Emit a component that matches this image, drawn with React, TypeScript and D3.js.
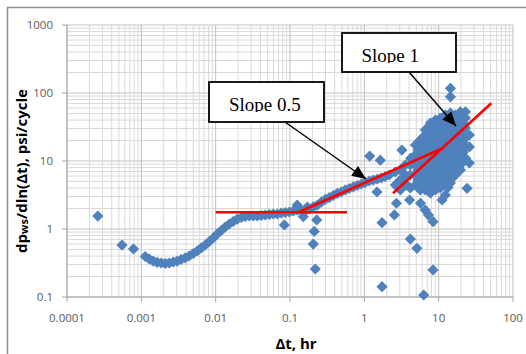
import React from "react";
import * as d3 from "d3";

const xTickLabels = ["0.0001", "0.001", "0.01", "0.1", "1", "10", "100"];
const yTickLabels = ["0.1", "1", "10", "100", "1000"];

// Main derivative trend (dense band)
const mainX = [0.001128, 0.001277, 0.001446, 0.001637, 0.001854, 0.0021, 0.00237, 0.00269, 0.00304, 0.00344, 0.0039, 0.00441, 0.005, 0.00565, 0.0064, 0.00725, 0.0082, 0.0093, 0.0105, 0.0119, 0.01346, 0.01524, 0.01726, 0.01954, 0.0221, 0.025, 0.0283, 0.032, 0.0363, 0.0411, 0.0465, 0.0527, 0.0596, 0.0675, 0.0764, 0.0865, 0.098, 0.1107, 0.1254, 0.142, 0.1607, 0.182, 0.206, 0.233, 0.264, 0.2986, 0.338, 0.383, 0.433, 0.49, 0.555, 0.628, 0.711, 0.805, 0.911, 1.03, 1.167, 1.32, 1.5, 1.69, 1.92, 2.17];
const mainY = [0.394, 0.362, 0.338, 0.322, 0.316, 0.311, 0.316, 0.327, 0.338, 0.356, 0.375, 0.401, 0.436, 0.475, 0.526, 0.582, 0.655, 0.737, 0.844, 0.951, 1.07, 1.185, 1.29, 1.4, 1.476, 1.527, 1.553, 1.553, 1.553, 1.58, 1.606, 1.634, 1.662, 1.662, 1.72, 1.749, 1.778, 1.84, 1.9, 1.87, 1.84, 1.97, 2.11, 2.25, 2.49, 2.72, 2.9, 3.11, 3.33, 3.5, 3.75, 3.94, 4.15, 4.36, 4.59, 4.83, 5.08, 5.25, 5.44, 5.62, 5.92, 6.22];

// Scattered late-time points
const scatterX = [0.00026, 0.00055, 0.000785, 0.084, 0.151, 0.125, 0.171, 0.229, 0.212, 0.206, 0.219, 1.18, 1.64, 3.2, 4.2, 14.4, 14.4, 22.9, 1.73, 2.54, 2.7, 4.07, 4.16, 5.1, 1.73, 6.3, 8.4, 5.7, 6.6, 7.3, 8.4, 24.1, 11.1, 3.75, 1.48];
const scatterY = [1.55, 0.58, 0.51, 1.145, 1.52, 2.25, 2.1, 1.36, 0.92, 0.6, 0.258, 11.8, 10.3, 14.5, 10.9, 117, 88, 53, 1.24, 1.61, 2.39, 2.67, 0.71, 0.52, 0.142, 0.107, 0.25, 2.39, 1.9, 1.6, 1.28, 3.97, 2.67, 4.4, 3.5];

// Dense cloud around slope-1 region
const cloudX = [2.61, 2.61, 3.05, 3.05, 3.05, 3.56, 3.56, 3.56, 4.16, 4.16, 4.16, 4.86, 4.86, 4.86, 4.86, 4.86, 5.67, 5.67, 5.67, 5.67, 5.67, 5.67, 6.62, 6.62, 6.62, 6.62, 6.62, 6.62, 6.62, 7.73, 7.73, 7.73, 7.73, 7.73, 7.73, 7.73, 7.73, 9.03, 9.03, 9.03, 9.03, 9.03, 9.03, 9.03, 9.03, 10.5, 10.5, 10.5, 10.5, 10.5, 10.5, 10.5, 10.5, 12.3, 12.3, 12.3, 12.3, 12.3, 12.3, 12.3, 12.3, 12.3, 14.4, 14.4, 14.4, 14.4, 14.4, 14.4, 14.4, 14.4, 16.8, 16.8, 16.8, 16.8, 16.8, 16.8, 16.8, 19.6, 19.6, 19.6, 19.6, 19.6, 19.6, 19.6, 22.9, 22.9, 22.9, 22.9, 22.9, 25.9, 25.9, 25.9,
  5.25, 5.25, 5.25, 5.25, 6.13, 6.13, 6.13, 6.13, 6.13, 6.13, 7.16, 7.16, 7.16, 7.16, 7.16, 7.16, 7.16, 8.36, 8.36, 8.36, 8.36, 8.36, 8.36, 8.36, 9.75, 9.75, 9.75, 9.75, 9.75, 9.75, 9.75, 11.4, 11.4, 11.4, 11.4, 11.4, 11.4, 11.4, 13.3, 13.3, 13.3, 13.3, 13.3, 13.3, 13.3, 13.3, 15.5, 15.5, 15.5, 15.5, 15.5, 15.5, 15.5, 18.1, 18.1, 18.1, 18.1, 18.1, 18.1, 21.2, 21.2, 21.2, 21.2, 21.2];
const cloudY = [6.89, 4.44, 7.38, 5.26, 3.75, 8.73, 6.22, 4.44, 8.73, 6.22, 4.01, 17.2, 12.3, 8.73, 6.22, 4.44, 20.4, 14.5, 10.3, 7.38, 5.26, 3.75, 28.6, 20.4, 14.5, 10.3, 7.38, 5.26, 3.75, 36.2, 25.8, 18.4, 13.1, 9.35, 6.66, 4.75, 3.38, 40.1, 28.6, 20.4, 14.5, 10.3, 7.38, 5.26, 3.75, 42.9, 30.6, 21.8, 15.5, 11.1, 7.89, 5.62, 4.01, 47.5, 33.8, 24.1, 17.2, 12.3, 8.73, 6.22, 4.44, 3.16, 50.8, 36.2, 25.8, 18.4, 13.1, 9.35, 6.66, 4.75, 47.5, 33.8, 24.1, 17.2, 12.3, 8.73, 6.22, 52.6, 40.1, 28.6, 20.4, 14.5, 10.3, 7.38, 42.9, 30.6, 21.8, 15.5, 11.1, 24.1, 16.1, 9.35,
  14.5, 10.3, 7.38, 5.26, 22.2, 15.8, 11.3, 8.02, 5.72, 4.08, 31.1, 22.2, 15.8, 11.3, 8.02, 5.72, 4.08, 31.1, 22.2, 15.8, 11.3, 8.02, 5.72, 4.08, 36.8, 26.3, 18.7, 13.3, 9.5, 6.77, 4.83, 36.8, 26.3, 18.7, 13.3, 9.5, 6.77, 4.83, 43.6, 31.1, 22.2, 15.8, 11.3, 8.02, 5.72, 4.08, 43.6, 31.1, 22.2, 15.8, 11.3, 8.02, 5.72, 43.6, 31.1, 22.2, 15.8, 11.3, 8.02, 36.8, 26.3, 18.7, 13.3, 9.5];

// Red fitted lines
const flatLineX = [0.01, 0.585];
const flatLineY = [1.76, 1.76];
const halfSlopeX = [0.13, 11.5];
const halfSlopeY = [1.76, 15.5];
const unitSlopeX = [2.43, 51];
const unitSlopeY = [3.35, 70.6];

export default function App() {
  const W = 526, H = 354;
  const L = 67, R = 513, T = 25, B = 297;
  const x = d3.scaleLog().domain([1e-4, 100]).range([L, R]);
  const y = d3.scaleLog().domain([0.1, 1000]).range([B, T]);

  const xGrid: number[] = [];
  for (let e = -4; e < 2; e++) for (let k = 1; k <= 9; k++) xGrid.push(k * Math.pow(10, e));
  xGrid.push(100);
  const yGrid: number[] = [];
  for (let e = -1; e < 3; e++) for (let k = 1; k <= 9; k++) yGrid.push(k * Math.pow(10, e));
  yGrid.push(1000);

  const xMajor = xTickLabels.map(Number);
  const yMajor = yTickLabels.map(Number);

  const allX = [...mainX, ...scatterX, ...cloudX];
  const allY = [...mainY, ...scatterY, ...cloudY];
  const pts = allX.map((v, i) => [v, allY[i]]);
  const s = 5.6;
  const diamond = (cx: number, cy: number) => `M${cx},${cy - s}L${cx + s},${cy}L${cx},${cy + s}L${cx - s},${cy}Z`;

  const line = d3.line<number>();
  const seg = (xs: number[], ys: number[]) => line(xs.map((v, i) => [x(v), y(ys[i])]) as any);

  const tickFont = "'Open Sans', 'Liberation Sans', sans-serif";
  return (
    <svg width={W} height={H} style={{ position: "absolute", left: 0, top: 0, background: "#fff" }}>
      <defs>
        <marker id="ah2" viewBox="0 0 14 12" refX="14" refY="6" markerWidth="15" markerHeight="12" markerUnits="userSpaceOnUse" orient="auto">
          <path d="M0,0L14,6L0,12Z" fill="#000" />
        </marker>
        <clipPath id="clip1"><rect x={342} y={33} width={114} height={30} /></clipPath>
        <clipPath id="clip2"><rect x={209} y={82} width={115} height={30} /></clipPath>
      </defs>
      <rect x={7.5} y={7.5} width={620} height={400} fill="#fff" stroke="#8c8c8c" strokeWidth={1.5} />
      {yGrid.map((v, i) => (
        <line key={"yg" + i} x1={L} x2={R} y1={y(v)} y2={y(v)} stroke={yMajor.includes(v) ? "#bfbfbf" : "#d9d9d9"} strokeWidth={1} />
      ))}
      {xGrid.map((v, i) => (
        <line key={"xg" + i} x1={x(v)} x2={x(v)} y1={T} y2={B} stroke={xMajor.includes(v) ? "#bfbfbf" : "#d9d9d9"} strokeWidth={1} />
      ))}
      <line x1={L} x2={L} y1={T} y2={B} stroke="#a6a6a6" />
      <line x1={L} x2={R} y1={B} y2={B} stroke="#a6a6a6" />
      {xMajor.map((v, i) => (
        <line key={"xt" + i} x1={x(v)} x2={x(v)} y1={B} y2={B + 5} stroke="#a6a6a6" />
      ))}
      {yMajor.map((v, i) => (
        <line key={"yt" + i} x1={L - 5} x2={L} y1={y(v)} y2={y(v)} stroke="#a6a6a6" />
      ))}
      {xTickLabels.map((t, i) => (
        <text key={"xl" + i} x={x(xMajor[i])} y={322} textAnchor="middle" fontFamily={tickFont} fontSize={11.5} fill="#595959">{t}</text>
      ))}
      {yTickLabels.map((t, i) => (
        <text key={"yl" + i} x={53} y={y(yMajor[i]) + 4} textAnchor="end" fontFamily={tickFont} fontSize={11.5} fill="#595959">{t}</text>
      ))}
      <g fill="#4f81bd">
        {pts.map((p, i) => (
          <path key={"p" + i} d={diamond(x(p[0]), y(p[1]))} />
        ))}
      </g>
      <g stroke="#ff0000" strokeWidth={2.6} fill="none">
        <path d={seg(flatLineX, flatLineY) || ""} />
        <path d={seg(halfSlopeX, halfSlopeY) || ""} />
        <path d={seg(unitSlopeX, unitSlopeY) || ""} />
      </g>
      <g stroke="#000" strokeWidth={1.5}>
        <line x1={409} y1={72} x2={456} y2={126} markerEnd="url(#ah2)" />
        <line x1={285} y1={122} x2={366} y2={179} markerEnd="url(#ah2)" />
      </g>
      <rect x={342} y={33} width={114} height={39} fill="#fff" stroke="#000" strokeWidth={1.8} />
      <rect x={209} y={82} width={115} height={40} fill="#fff" stroke="#000" strokeWidth={1.8} />
      <text x={361.5} y={62} clipPath="url(#clip1)" fontFamily="'Liberation Serif', 'Times New Roman', serif" fontSize={19} fill="#000">Slope 1</text>
      <text x={229} y={111} clipPath="url(#clip2)" fontFamily="'Liberation Serif', 'Times New Roman', serif" fontSize={19} fill="#000">Slope 0.5</text>
      <text x={296} y={349} textAnchor="middle" fontFamily={tickFont} fontWeight="bold" fontSize={15} fill="#000">Δt, hr</text>
      <text transform="translate(27,171) rotate(-90)" textAnchor="middle" fontFamily={tickFont} fontWeight="bold" fontSize={15} fill="#000">
        dp<tspan fontSize={11} dy={1}>ws</tspan><tspan dy={-1}>/dln(Δt), psi/cycle</tspan>
      </text>
    </svg>
  );
}
